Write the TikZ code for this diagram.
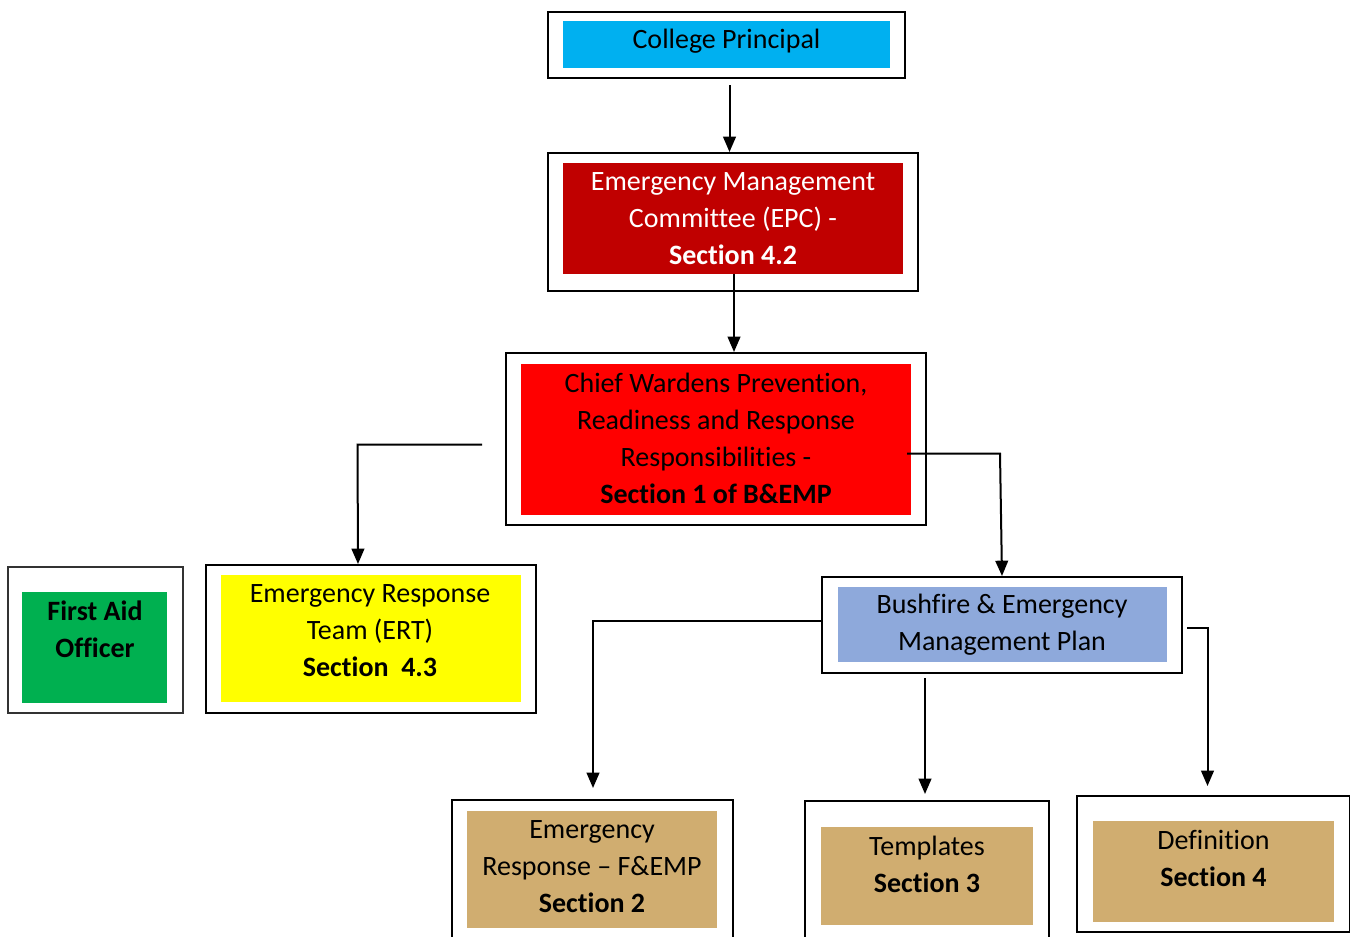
\documentclass[tikz,border=0pt]{standalone}
\usepackage{fontspec}
\setmainfont[Ligatures=NoCommon]{Carlito}
\usetikzlibrary{arrows.meta}
\definecolor{cpblue}{HTML}{00B0F0}
\definecolor{epcred}{HTML}{C00000}
\definecolor{cwred}{HTML}{FF0000}
\definecolor{fagreen}{HTML}{00B050}
\definecolor{ertyellow}{HTML}{FFFF00}
\definecolor{bpblue}{HTML}{8EA9DB}
\definecolor{tan}{HTML}{D0AD70}
\tikzset{
  outerbox/.style={draw=black, line width=1.5pt, fill=white, inner sep=0pt},
  innerbox/.style={draw=none, inner sep=0pt},
  lbl/.style={align=center, font=\fontsize{21pt}{27.75pt}\selectfont, inner sep=0pt},
  arr/.style={line width=1.5pt, -{Triangle[length=11.5pt,width=9.5pt]}},
  ln/.style={line width=1.5pt}
}
\begin{document}
\begin{tikzpicture}[x=0.75pt,y=-0.75pt]
\useasboundingbox (0,0) rectangle (1350,936);
% College Principal
\node[outerbox, minimum width=267.75pt, minimum height=49.5pt] (cpO) at (726.5,45) {};
\node[innerbox, fill=cpblue, minimum width=245.25pt, minimum height=35.25pt] (cpI) at (726.5,44.5) {};
\node[lbl] (cpT) at (726.5,41) {College Principal};
% EPC
\node[outerbox, minimum width=277.5pt, minimum height=103.5pt] (epcO) at (733,222) {};
\node[innerbox, fill=epcred, minimum width=255pt, minimum height=83.25pt] (epcI) at (733,218.5) {};
\node[lbl, text=white] (epcT) at (733,219) {Emergency Management\\Committee (EPC) -\\\textbf{Section 4.2}};
% Chief Wardens
\node[outerbox, minimum width=315pt, minimum height=129pt] (cwO) at (716,439) {};
\node[innerbox, fill=cwred, minimum width=292.5pt, minimum height=113.25pt] (cwI) at (716,439.5) {};
\node[lbl] (cwT) at (716,438.5) {Chief Wardens Prevention,\\Readiness and Response\\Responsibilities -\\\textbf{Section 1 of B\&EMP}};
% First Aid
\node[outerbox, draw=black!80, line width=1pt, minimum width=131.25pt, minimum height=109.5pt] (faO) at (95.5,640) {};
\node[innerbox, fill=fagreen, minimum width=108.75pt, minimum height=83.25pt] (faI) at (94.5,647.5) {};
\node[lbl, font=\fontsize{21pt}{27.75pt}\selectfont\bfseries] (faT) at (95,629) {First Aid\\Officer};
% ERT
\node[outerbox, minimum width=247.5pt, minimum height=111pt] (ertO) at (371,639) {};
\node[innerbox, fill=ertyellow, minimum width=225pt, minimum height=95.25pt] (ertI) at (371,638.5) {};
\node[lbl] (ertT) at (370,631) {Emergency Response\\Team (ERT)\\\textbf{Section\ \ 4.3}};
% Bushfire plan
\node[outerbox, minimum width=270pt, minimum height=72pt] (bpO) at (1002,625) {};
\node[innerbox, fill=bpblue, minimum width=246.75pt, minimum height=56.25pt] (bpI) at (1002.5,624.5) {};
\node[lbl] (bpT) at (1002,624.5) {Bushfire \& Emergency\\Management Plan};
% Section 2
\node[outerbox, minimum width=210.75pt, minimum height=105pt] (s2O) at (592.5,870) {};
\node[innerbox, fill=tan, minimum width=187.5pt, minimum height=87.75pt] (s2I) at (592,869.5) {};
\node[lbl] (s2T) at (592,867) {Emergency\\Response -- F\&EMP\\\textbf{Section 2}};
% Templates
\node[outerbox, minimum width=183pt, minimum height=104.25pt] (s3O) at (927,870.5) {};
\node[innerbox, fill=tan, minimum width=159pt, minimum height=73.5pt] (s3I) at (927,876) {};
\node[lbl] (s3T) at (927,864.5) {Templates\\\textbf{Section 3}};
% Definition
\node[outerbox, minimum width=204.75pt, minimum height=102pt] (s4O) at (1213,864) {};
\node[innerbox, fill=tan, minimum width=180.75pt, minimum height=75.75pt] (s4I) at (1213.5,871.5) {};
\node[lbl] (s4T) at (1213.5,858) {Definition\\\textbf{Section 4}};
% connectors
\draw[arr] ([xshift=2.25pt,yshift=-4.5pt]cpO.south) -- ([xshift=2.25pt]cpO.south |- epcO.north);
\draw[arr] (epcI.south) ++(0.75pt,0) coordinate (epcB) -- (epcB |- cwO.north);
\coordinate (cwL) at (482,444.5);
\draw[arr] (cwL) -- (357.5,444.5) -- ([xshift=-9.75pt]ertO.north);
\coordinate (cwR) at (907,453.5);
\draw[arr] (cwR) -- (1000,453.5) -- (bpO.north);
\draw[arr] (bpO.west |- 0,620.5) -- (593,620.5) -- (593,788);
\draw[arr] ([xshift=-57.75pt,yshift=-3pt]bpO.south) -- ([xshift=-1.5pt]s3O.north |- 0,794);
\draw[arr] ([xshift=3pt]bpO.east |- 0,628) -- (1207.5,628) -- (1207.5,786);
\end{tikzpicture}
\end{document}
